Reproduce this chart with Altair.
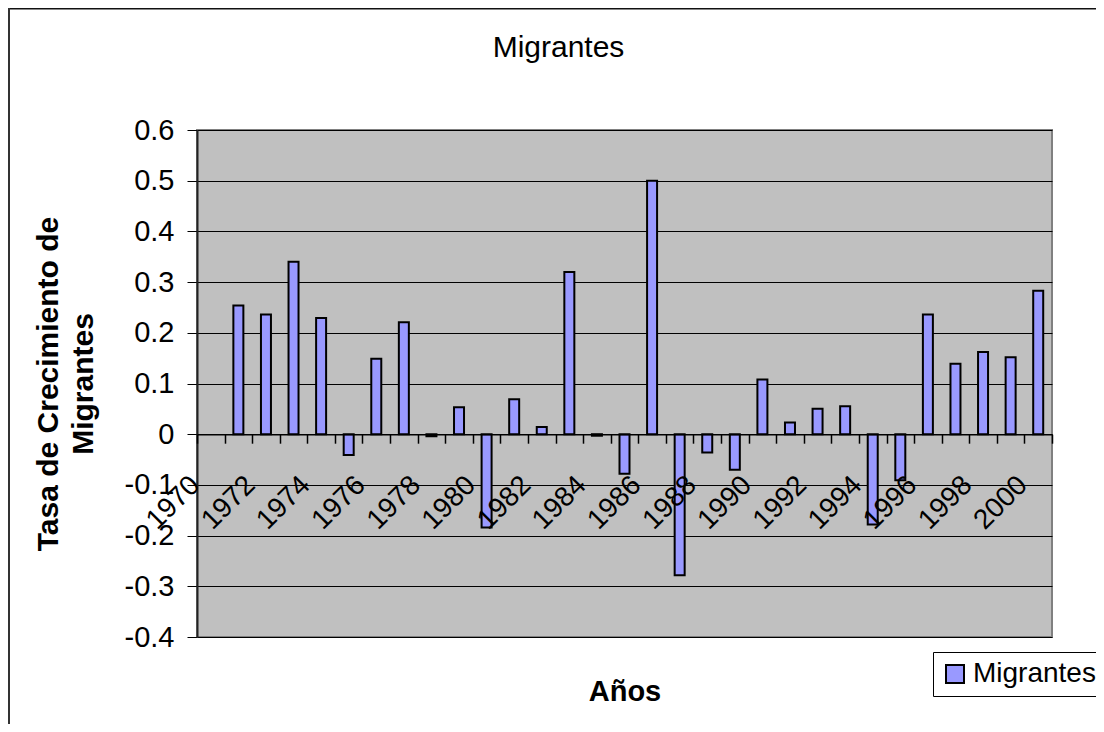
import altair as alt
import pandas as pd

# ---- data ----
years = list(range(1970, 2001))
rates = [None, 0.254, 0.236, 0.340, 0.229, -0.041, 0.149, 0.221, -0.004, 0.053,
         -0.184, 0.069, 0.014, 0.320, -0.003, -0.078, 0.500, -0.278, -0.036, -0.070,
         0.108, 0.023, 0.050, 0.055, -0.178, -0.091, 0.236, 0.139, 0.162, 0.152, 0.283]
y_ticks = [-0.4, -0.3, -0.2, -0.1, 0.0, 0.1, 0.2, 0.3, 0.4, 0.5, 0.6]
series_name = "Migrantes"
chart_title = "Migrantes"
x_title = "Años"
y_title = ["Tasa de Crecimiento de", "Migrantes"]

df = pd.DataFrame({"year": years, "rate": rates, "serie": [series_name] * len(years)})

W, H = 855, 507
Y0, Y1 = -0.4, 0.6
zero_px = H * Y1 / (Y1 - Y0)
FONT = "Liberation Sans"

label_expr_y = ("datum.value == 0 ? '0' : (datum.value < 0 ? '-' : '') + "
                "format(abs(datum.value), '.1f')")

bars = alt.Chart(df).mark_bar(size=10, stroke="black", strokeWidth=2).encode(
    x=alt.X(
        "year:O",
        scale=alt.Scale(domain=years, paddingInner=0, paddingOuter=0),
        axis=alt.Axis(
            title=x_title, offset=-(H - zero_px), tickBand="extent",
            labelAngle=315, labelAlign="right", labelBaseline="alphabetic",
            labelPadding=43, labelOffset=-10, tickSize=9,
            labelExpr="datum.value % 2 == 0 ? datum.label : ''",
            labelOverlap=False, labelFontSize=28, labelColor="black",
            labelFont=FONT, titleFont=FONT,
            titleFontSize=29, titleFontWeight="bold", titleColor="black",
            titleY=266, titleBaseline="alphabetic",
            zindex=1, grid=False, domainColor="black", domainWidth=1.5,
            tickColor="black", tickWidth=1.5,
        ),
    ),
    y=alt.Y(
        "rate:Q",
        scale=alt.Scale(domain=[Y0, Y1], nice=False, zero=False),
        axis=alt.Axis(
            values=y_ticks, title=y_title, titleFont=FONT, titleFontSize=30,
            titleFontWeight="bold", titleColor="black", titleAngle=270,
            titleX=-149, titleY=H / 2, titleAlign="center", titleBaseline="middle",
            titleLineHeight=35, labelFont=FONT, labelFontSize=29, labelColor="black",
            labelPadding=13, tickSize=10, tickColor="black", domainColor="#222222",
            domainWidth=2, grid=True, gridColor="black", gridWidth=1,
            labelExpr=label_expr_y, zindex=0,
        ),
    ),
    color=alt.Color(
        "serie:N",
        scale=alt.Scale(range=["#9999FF"]),
        legend=alt.Legend(
            title=None, orient="none", legendX=736, legendY=522,
            symbolType="square", symbolSize=324, symbolStrokeColor="black",
            symbolStrokeWidth=2, labelFont=FONT, labelFontSize=28,
            labelColor="black", fillColor="white", strokeColor="black",
            padding=8, labelOffset=4,
        ),
    ),
)

frame_df = pd.DataFrame({"k": [0]})
frame_top = alt.Chart(frame_df).mark_rule(color="#111111", strokeWidth=2).encode(
    x=alt.value(-188.5), x2=alt.value(W + 60), y=alt.value(-121.5)
)
frame_left = alt.Chart(frame_df).mark_rule(color="#333333", strokeWidth=2).encode(
    x=alt.value(-188), y=alt.value(-122), y2=alt.value(H + 100)
)

chart = alt.layer(frame_top, frame_left, bars).properties(
    width=W, height=H,
    background="white",
    title=alt.TitleParams(chart_title, font=FONT, fontSize=30, fontWeight="normal",
                          color="black", anchor="middle", dx=-66,
                          baseline="alphabetic", dy=83.5),
    autosize=alt.AutoSizeParams(type="none"),
    padding={"left": 189, "top": 122, "right": 44, "bottom": 87},
).configure_view(
    fill="#C0C0C0", stroke="#808080", strokeWidth=2
)

chart.save("out.html", embed_options={"renderer": "svg", "actions": False})
